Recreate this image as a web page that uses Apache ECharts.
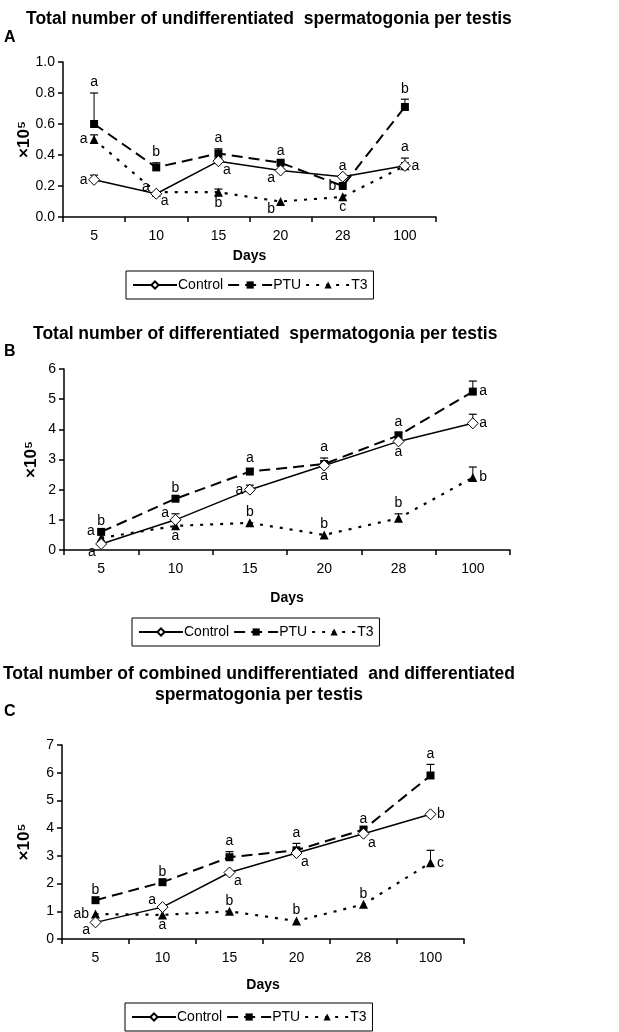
<!DOCTYPE html>
<html>
<head>
<meta charset="utf-8">
<script src="https://cdn.jsdelivr.net/npm/echarts@6/dist/echarts.min.js"></script>
<style>
  html, body { margin: 0; padding: 0; background: #fff; }
  #chart { width: 619px; height: 1032px; }
</style>
</head>
<body>
<div id="chart"></div>
<script>
// data
const days = ['5', '10', '15', '20', '28', '100']

// A: undifferentiated (x10^5)
const undiffControl = [0.24, 0.15, 0.36, 0.30, 0.26, 0.33]
const undiffPTU = [0.60, 0.32, 0.41, 0.35, 0.20, 0.71]
const undiffT3 = [0.50, 0.16, 0.16, 0.10, 0.13, 0.33]
const undiffControlErr = [0.27, null, 0.38, 0.31, null, 0.38]
const undiffPTUErr = [0.80, 0.35, 0.44, 0.36, null, 0.76]
const undiffT3Err = [0.53, null, 0.18, null, null, 0.35]
const undiffControlLetters = ['a', 'a', 'a', 'a', 'a', 'a']
const undiffPTULetters = ['a', 'b', 'a', 'a', 'b', 'b']
const undiffT3Letters = ['a', 'a', 'b', 'b', 'c', 'a']

// B: differentiated
const diffControl = [0.2, 1.0, 2.0, 2.8, 3.6, 4.2]
const diffPTU = [0.6, 1.7, 2.6, 2.85, 3.8, 5.25]
const diffT3 = [0.4, 0.8, 0.9, 0.5, 1.05, 2.4]
const diffControlErr = [null, 1.2, 2.15, null, null, 4.5]
const diffPTUErr = [null, null, 2.7, 3.05, 3.9, 5.6]
const diffT3Err = [null, null, null, null, 1.2, 2.75]
const diffControlLetters = ['a', 'a', 'a', 'a', 'a', 'a']
const diffPTULetters = ['b', 'b', 'a', 'a', 'a', 'a']
const diffT3Letters = ['a', 'a', 'b', 'b', 'b', 'b']

// C: combined
const combControl = [0.6, 1.15, 2.4, 3.1, 3.8, 4.5]
const combPTU = [1.4, 2.05, 2.95, 3.2, 3.95, 5.9]
const combT3 = [0.9, 0.87, 1.0, 0.65, 1.25, 2.75]
const combControlErr = [null, null, null, null, null, null]
const combPTUErr = [null, null, 3.15, 3.45, null, 6.3]
const combT3Err = [null, null, null, null, null, 3.2]
const combControlLetters = ['a', 'a', 'a', 'a', 'a', 'b']
const combPTULetters = ['b', 'b', 'a', 'a', 'a', 'a']
const combT3Letters = ['ab', 'a', 'b', 'b', 'b', 'c']

const yTicksA = { min: 0, max: 1.0, interval: 0.2 }
const yTicksB = { min: 0, max: 6, interval: 1 }
const yTicksC = { min: 0, max: 7, interval: 1 }

// where each letter sits next to its point
const placeA = {
  control: ['left', 'tl', 'br', 'bl', 'top', 'top'],
  ptu: ['top', 'top', 'top', 'top', 'left', 'top'],
  t3: ['left', 'br', 'bottom', 'bl', 'bottom', 'right']
}
const placeB = {
  control: ['bl', 'tl', 'left', 'bottom', 'bottom', 'right'],
  ptu: ['top', 'top', 'top', 'top', 'top', 'right'],
  t3: ['tl', 'bottom', 'top', 'top', 'top', 'right']
}
const placeC = {
  control: ['bl', 'tl', 'br', 'br', 'br', 'right'],
  ptu: ['top', 'top', 'top', 'top', 'top', 'top'],
  t3: ['left', 'bottom', 'top', 'top', 'top', 'right']
}

const FONT = "'Liberation Sans', Arial, sans-serif"
const chart = echarts.init(document.getElementById('chart'), null, { renderer: 'canvas' })

const styles = {
  Control: {
    symbol: 'diamond', symbolSize: 11,
    lineStyle: { color: '#000', width: 1.5, type: 'solid' },
    itemStyle: { color: '#fff', borderColor: '#000', borderWidth: 1 }
  },
  PTU: {
    symbol: 'rect', symbolSize: 8,
    lineStyle: { color: '#000', width: 2, type: [11, 6] },
    itemStyle: { color: '#000', borderColor: '#000', borderWidth: 0 }
  },
  T3: {
    symbol: 'triangle', symbolSize: 9,
    lineStyle: { color: '#000', width: 2.2, type: [3, 7] },
    itemStyle: { color: '#000', borderColor: '#000', borderWidth: 0 }
  }
}

const makeLine = (name, values, idx) => ({
  name,
  type: 'line',
  xAxisIndex: idx,
  yAxisIndex: idx,
  data: values,
  symbol: styles[name].symbol,
  symbolSize: styles[name].symbolSize,
  showSymbol: true,
  lineStyle: styles[name].lineStyle,
  itemStyle: styles[name].itemStyle,
  z: name === 'Control' ? 4 : 3,
  animation: false
})

const makeErr = (values, tops, idx) => ({
  type: 'custom',
  xAxisIndex: idx,
  yAxisIndex: idx,
  data: values.map((v, i) => [i, v, tops[i]]).filter(d => d[2] != null),
  renderItem: (params, api) => {
    const p0 = api.coord([api.value(0), api.value(1)])
    const p1 = api.coord([api.value(0), api.value(2)])
    return {
      type: 'group',
      children: [
        { type: 'line', shape: { x1: p0[0], y1: p0[1], x2: p1[0], y2: p1[1] }, style: { stroke: '#000', lineWidth: 1 } },
        { type: 'line', shape: { x1: p1[0] - 4, y1: p1[1], x2: p1[0] + 4, y2: p1[1] }, style: { stroke: '#000', lineWidth: 1.2 } }
      ]
    }
  },
  z: 2,
  animation: false
})

const placeLabel = (pos) => {
  switch (pos) {
    case 'tl': return { position: 'left', distance: 6, offset: [0, -7] }
    case 'bl': return { position: 'left', distance: 5, offset: [0, 8] }
    case 'br': return { position: 'right', distance: 4, offset: [0, 9] }
    case 'top': return { position: 'top', distance: 3 }
    case 'bottom': return { position: 'bottom', distance: 3 }
    case 'left': return { position: 'left', distance: 6 }
    default: return { position: 'right', distance: 6 }
  }
}

const makeLetters = (values, tops, letters, place, idx) => ({
  type: 'scatter',
  xAxisIndex: idx,
  yAxisIndex: idx,
  symbolSize: 1,
  itemStyle: { color: 'rgba(0,0,0,0)' },
  silent: true,
  data: values.map((v, i) => {
    const anchor = (place[i] === 'top' && tops[i] != null) ? tops[i] : v
    return {
      value: [i, anchor],
      label: Object.assign({
        show: true,
        formatter: letters[i],
        color: '#000',
        opacity: 1,
        fontSize: 14,
        fontFamily: FONT
      }, placeLabel(place[i]))
    }
  }),
  z: 5,
  animation: false
})

const grids = [
  { left: 63, top: 62, width: 373, height: 155 },
  { left: 64, top: 369, width: 446, height: 181 },
  { left: 62, top: 745, width: 402, height: 194 }
]
const daysGap = [32, 41, 39]
const unitGap = [30, 24, 29]

const xAxes = grids.map((g, i) => ({
  type: 'category',
  gridIndex: i,
  data: days,
  boundaryGap: true,
  name: 'Days',
  nameLocation: 'middle',
  nameGap: daysGap[i],
  nameTextStyle: { fontFamily: FONT, fontWeight: 'bold', fontSize: 14, color: '#000' },
  axisLine: { lineStyle: { color: '#000', width: 1.5 } },
  axisTick: { show: true, length: 5, lineStyle: { color: '#000', width: 1.5 } },
  axisLabel: { color: '#000', fontSize: 14, fontFamily: FONT, margin: 12 },
  splitLine: { show: false }
}))

const yTicks = [yTicksA, yTicksB, yTicksC]
const yAxes = yTicks.map((t, i) => ({
  type: 'value',
  gridIndex: i,
  min: t.min,
  max: t.max,
  interval: t.interval,
  name: '×10⁵',
  nameLocation: 'middle',
  nameRotate: 90,
  nameGap: unitGap[i],
  nameMoveOverlap: false,
  nameTextStyle: { fontFamily: FONT, fontWeight: 'bold', fontSize: 17, color: '#000' },
  axisLine: { show: true, lineStyle: { color: '#000', width: 1.5 } },
  axisTick: { show: true, length: 5, lineStyle: { color: '#000', width: 1.5 } },
  axisLabel: {
    color: '#000', fontSize: 14, fontFamily: FONT, margin: 8,
    formatter: v => (i === 0 ? v.toFixed(1) : String(v))
  },
  splitLine: { show: false }
}))

const legendBase = (left, top) => ({
  left, top,
  data: ['Control', 'PTU', 'T3'],
  orient: 'horizontal',
  borderColor: '#000',
  borderWidth: 1,
  padding: [7, 6],
  itemWidth: 44,
  itemHeight: 9,
  itemGap: 4,
  selectedMode: false,
  textStyle: { fontFamily: FONT, fontSize: 14, color: '#000', padding: [0, 0, 0, -4] }
})

const titleStyle = { fontFamily: FONT, fontWeight: 'bold', fontSize: 17.5, color: '#000' }
const letterStyle = { fontFamily: FONT, fontWeight: 'bold', fontSize: 16, color: '#000' }

const option = {
  backgroundColor: '#fff',
  animation: false,
  title: [
    { text: 'Total number of undifferentiated  spermatogonia per testis', left: 26, top: 10, padding: 0, textStyle: titleStyle },
    { text: 'A', left: 4, top: 30, padding: 0, textStyle: letterStyle },
    { text: 'Total number of differentiated  spermatogonia per testis', left: 33, top: 325, padding: 0, textStyle: titleStyle },
    { text: 'B', left: 4, top: 344, padding: 0, textStyle: letterStyle },
    {
      text: 'Total number of combined undifferentiated  and differentiated\nspermatogonia per testis',
      left: 259, top: 664, padding: 0, textAlign: 'center',
      textStyle: Object.assign({ lineHeight: 21 }, titleStyle)
    },
    { text: 'C', left: 4, top: 704, padding: 0, textStyle: letterStyle }
  ],
  legend: [legendBase(126, 271), legendBase(132, 618), legendBase(125, 1003)],
  grid: grids,
  xAxis: xAxes,
  yAxis: yAxes,
  series: [
    makeErr(undiffControl, undiffControlErr, 0),
    makeErr(undiffPTU, undiffPTUErr, 0),
    makeErr(undiffT3, undiffT3Err, 0),
    makeLine('T3', undiffT3, 0),
    makeLine('PTU', undiffPTU, 0),
    makeLine('Control', undiffControl, 0),
    makeLetters(undiffControl, undiffControlErr, undiffControlLetters, placeA.control, 0),
    makeLetters(undiffPTU, undiffPTUErr, undiffPTULetters, placeA.ptu, 0),
    makeLetters(undiffT3, undiffT3Err, undiffT3Letters, placeA.t3, 0),

    makeErr(diffControl, diffControlErr, 1),
    makeErr(diffPTU, diffPTUErr, 1),
    makeErr(diffT3, diffT3Err, 1),
    makeLine('T3', diffT3, 1),
    makeLine('PTU', diffPTU, 1),
    makeLine('Control', diffControl, 1),
    makeLetters(diffControl, diffControlErr, diffControlLetters, placeB.control, 1),
    makeLetters(diffPTU, diffPTUErr, diffPTULetters, placeB.ptu, 1),
    makeLetters(diffT3, diffT3Err, diffT3Letters, placeB.t3, 1),

    makeErr(combControl, combControlErr, 2),
    makeErr(combPTU, combPTUErr, 2),
    makeErr(combT3, combT3Err, 2),
    makeLine('T3', combT3, 2),
    makeLine('PTU', combPTU, 2),
    makeLine('Control', combControl, 2),
    makeLetters(combControl, combControlErr, combControlLetters, placeC.control, 2),
    makeLetters(combPTU, combPTUErr, combPTULetters, placeC.ptu, 2),
    makeLetters(combT3, combT3Err, combT3Letters, placeC.t3, 2)
  ]
}

chart.setOption(option)
window.addEventListener('resize', () => chart.resize())
</script>
</body>
</html>
